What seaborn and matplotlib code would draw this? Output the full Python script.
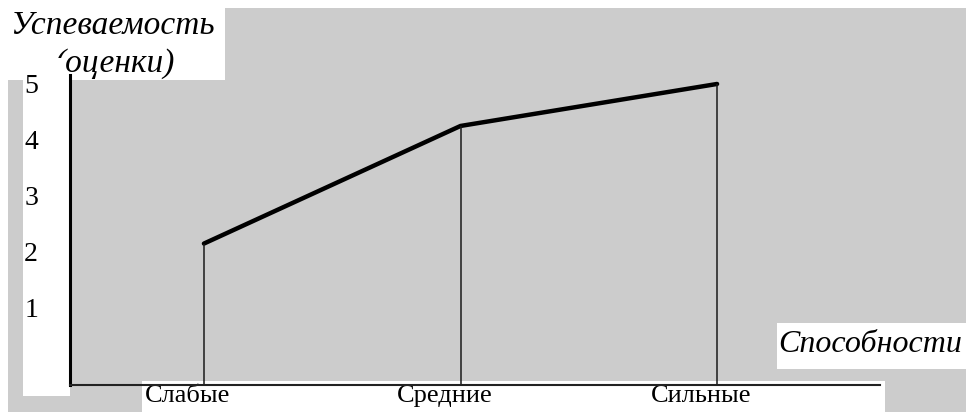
import matplotlib
matplotlib.use("Agg")
import matplotlib.pyplot as plt
import matplotlib.transforms as mtransforms
from matplotlib.patches import Rectangle
import seaborn as sns

# ---- data ----
categories = ["Слабые", "Средние", "Сильные"]
scores = [2.15, 4.25, 5.0]
yticks = [1, 2, 3, 4, 5]
y_title_1 = "Успеваемость"
y_title_2 = "(оценки)"
x_title = "Способности"

W, H = 966, 412
GRAY = "#cccccc"

sns.set_theme(style="white")
plt.rcParams["font.family"] = ["Liberation Serif", "DejaVu Serif"]

fig = plt.figure(figsize=(W / 100, H / 100), dpi=100, facecolor="white")


def box(x0, y0, x1, y1, color, z):
    fig.add_artist(Rectangle((x0 / W, 1 - y1 / H), (x1 - x0) / W, (y1 - y0) / H,
                             transform=fig.transFigure, facecolor=color,
                             edgecolor="none", zorder=z))


# background panels
box(8, 8, 966, 412, GRAY, -10)
box(0, 0, 225, 80, "white", -9)
box(23, 79, 70, 396, "white", -9)
box(142, 381, 885, 412, "white", -9)
box(777, 323, 966, 369, "white", -9)

ax = fig.add_axes([70 / W, 1 - 385 / H, (880 - 70) / W, (385 - 75) / H])
ax.set_facecolor("none")

ymin, ymax = -0.375, 5.16
sns.lineplot(x=categories, y=scores, ax=ax, color="black", linewidth=3.2,
             sort=False)
ax.vlines(categories, ymin, scores, color="#1a1a1a", linewidth=1.1)
ax.set_ylim(ymin, ymax)
ax.set_xlim(-0.522, 2.635)

for s in ["top", "right"]:
    ax.spines[s].set_visible(False)
ax.spines["left"].set_linewidth(2.2)
ax.spines["left"].set_color("black")
ax.spines["bottom"].set_linewidth(1.5)
ax.spines["bottom"].set_color("#222222")

ax.set_yticks(yticks)
ax.set_yticklabels([str(v) for v in yticks])
ax.tick_params(axis="y", length=0, pad=23, labelsize=20, labelcolor="black")
ax.tick_params(axis="x", length=0, pad=0, labelsize=19, labelcolor="black")
ax.set_xlabel("")
ax.set_ylabel("")

offset = mtransforms.ScaledTranslation(-16 / 100, 0, fig.dpi_scale_trans)
for lab in ax.get_xticklabels():
    lab.set_transform(lab.get_transform() + offset)

fig.text(112 / W, 1 - 26 / H, y_title_1, fontsize=24, style="italic",
         ha="center", va="center", color="black")
fig.text(115 / W, 1 - 64 / H, y_title_2, fontsize=24, style="italic",
         ha="center", va="center", color="black")
box(56, 58, 66, 80, "white", 5)

fig.text(778 / W, 1 - 345 / H, x_title, fontsize=23, style="italic",
         ha="left", va="center", color="black")

fig.savefig("out.png", dpi=100, facecolor="white")
